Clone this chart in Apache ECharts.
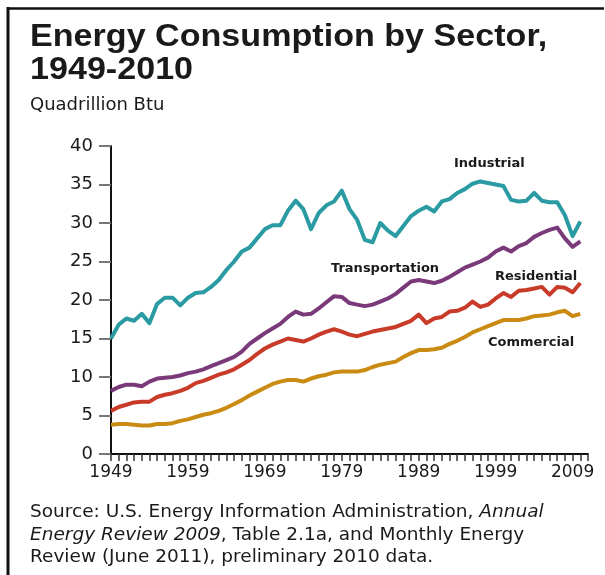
<!DOCTYPE html>
<html>
<head>
<meta charset="utf-8">
<script src="https://cdn.jsdelivr.net/npm/echarts@6/dist/echarts.min.js"></script>
<style>
  html, body { margin: 0; padding: 0; background: #fff; }
  #main { width: 605px; height: 575px; }
</style>
</head>
<body>
<div id="main"></div>
<script>
// years on the x axis (one extra slot after 2010, the axis runs a bit past the data)
const years = []
for (let y = 1949; y <= 2011; y++) years.push(String(y))
const yearLabels = ['1949', '1959', '1969', '1979', '1989', '1999', '2009']

// quadrillion Btu, 1949-2010
const industrial = [
  15.0, 16.8, 17.6, 17.3, 18.2, 17.0, 19.5, 20.3, 20.3, 19.3,
  20.3, 20.9, 21.0, 21.7, 22.6, 23.9, 25.0, 26.3, 26.8, 28.0,
  29.2, 29.7, 29.7, 31.6, 32.9, 31.8, 29.2, 31.3, 32.3, 32.8,
  34.2, 31.8, 30.4, 27.8, 27.5, 30.0, 29.0, 28.3, 29.6, 30.9,
  31.6, 32.1, 31.5, 32.8, 33.1, 33.9, 34.4, 35.1, 35.4, 35.2,
  35.0, 34.8, 33.0, 32.8, 32.9, 33.9, 32.9, 32.7, 32.7, 31.0,
  28.3, 30.2
]
const transportation = [
  8.2, 8.7, 9.0, 9.0, 8.8, 9.4, 9.8, 9.9, 10.0, 10.2,
  10.5, 10.7, 11.0, 11.4, 11.8, 12.2, 12.6, 13.3, 14.3, 15.0,
  15.7, 16.3, 16.9, 17.8, 18.5, 18.1, 18.2, 18.9, 19.7, 20.5,
  20.4, 19.6, 19.4, 19.2, 19.4, 19.8, 20.2, 20.8, 21.6, 22.4,
  22.6, 22.4, 22.2, 22.5, 23.0, 23.6, 24.2, 24.6, 25.0, 25.5,
  26.3, 26.8, 26.3, 27.0, 27.4, 28.2, 28.7, 29.1, 29.4, 28.0,
  26.9, 27.6
]
const residential = [
  5.6, 6.1, 6.4, 6.7, 6.8, 6.8, 7.4, 7.7, 7.9, 8.2,
  8.6, 9.2, 9.5, 9.9, 10.3, 10.6, 11.0, 11.6, 12.2, 13.0,
  13.7, 14.2, 14.6, 15.0, 14.8, 14.6, 15.0, 15.5, 15.9, 16.2,
  15.9, 15.5, 15.3, 15.6, 15.9, 16.1, 16.3, 16.5, 16.9, 17.3,
  18.1, 17.0, 17.6, 17.8, 18.5, 18.6, 19.0, 19.8, 19.1, 19.4,
  20.2, 20.9, 20.4, 21.2, 21.3, 21.5, 21.7, 20.7, 21.7, 21.6,
  21.0, 22.2
]
const commercial = [
  3.8, 3.9, 3.9, 3.8, 3.7, 3.7, 3.9, 3.9, 4.0, 4.3,
  4.5, 4.8, 5.1, 5.3, 5.6, 6.0, 6.5, 7.0, 7.6, 8.1,
  8.6, 9.1, 9.4, 9.6, 9.6, 9.4, 9.8, 10.1, 10.3, 10.6,
  10.7, 10.7, 10.7, 10.9, 11.3, 11.6, 11.8, 12.0, 12.6, 13.1,
  13.5, 13.5, 13.6, 13.8, 14.3, 14.7, 15.2, 15.8, 16.2, 16.6,
  17.0, 17.4, 17.4, 17.4, 17.6, 17.9, 18.0, 18.1, 18.4, 18.6,
  17.9, 18.2
]

const FONT = 'DejaVu Sans'
const TITLE_FONT = 'Liberation Sans'
const chart = echarts.init(document.getElementById('main'))

function line (name, data, color) {
  return {
    name,
    type: 'line',
    data,
    symbol: 'none',
    smooth: false,
    lineStyle: { width: 4, color, join: 'round' },
    itemStyle: { color }
  }
}

function txt (text, x, y, size, weight, family) {
  return {
    type: 'text',
    x,
    y,
    style: {
      text,
      fill: '#1a1a1a',
      fontFamily: family || FONT,
      fontSize: size,
      fontWeight: weight || 'normal',
      align: 'left',
      verticalAlign: 'middle'
    }
  }
}

// title lines: the original type is a little wide, so stretch it a bit
function title (text, y) {
  const t = txt(text, 30, y, 31, 'bold', TITLE_FONT)
  t.scaleX = 1.1
  return t
}

// source note, italic parts through rich text
function note (text, y) {
  const base = { fontFamily: FONT, fontSize: 18.5, fill: '#1a1a1a' }
  return {
    type: 'text',
    x: 30,
    y,
    style: Object.assign({
      text,
      align: 'left',
      verticalAlign: 'middle',
      rich: {
        i: { fontFamily: FONT, fontSize: 18.5, fontStyle: 'italic', color: '#1a1a1a' }
      }
    }, base)
  }
}

const option = {
  animation: false,
  backgroundColor: '#fff',
  grid: { left: 111, right: 17, top: 146, bottom: 121, containLabel: false },
  xAxis: {
    type: 'category',
    data: years,
    boundaryGap: false,
    axisLine: { lineStyle: { color: '#111', width: 2 } },
    axisTick: { interval: 0, length: 7, lineStyle: { color: '#333', width: 1.5 } },
    axisLabel: {
      interval: (i, v) => yearLabels.includes(v),
      fontFamily: FONT,
      fontSize: 17,
      color: '#1a1a1a',
      margin: 10
    },
    splitLine: { show: false }
  },
  yAxis: {
    type: 'value',
    min: 0,
    max: 40,
    interval: 5,
    axisLine: { show: true, lineStyle: { color: '#111', width: 2 } },
    axisTick: { show: true, length: 12, lineStyle: { color: '#777', width: 2 } },
    axisLabel: { fontFamily: FONT, fontSize: 18, color: '#1a1a1a', margin: 18 },
    splitLine: { show: false }
  },
  series: [
    line('Commercial', commercial, '#c98b12'),
    line('Residential', residential, '#c83b28'),
    line('Transportation', transportation, '#7a3a7a'),
    line('Industrial', industrial, '#2a9ba2')
  ],
  graphic: [
    // frame: top and left rules
    { type: 'line', shape: { x1: 7, y1: 8.5, x2: 604, y2: 8.5 }, style: { stroke: '#111', lineWidth: 2.5 } },
    { type: 'line', shape: { x1: 8, y1: 7, x2: 8, y2: 575 }, style: { stroke: '#111', lineWidth: 3 } },
    title('Energy Consumption by Sector,', 37),
    title('1949-2010', 70),
    txt('Quadrillion Btu', 30, 105, 18),
    txt('Industrial', 454, 164, 13, 'bold'),
    txt('Transportation', 331, 269, 13, 'bold'),
    txt('Residential', 495, 277, 13, 'bold'),
    txt('Commercial', 488, 343, 13, 'bold'),
    note('Source: U.S. Energy Information Administration, {i|Annual}', 512),
    note('{i|Energy Review 2009}, Table 2.1a, and Monthly Energy', 535),
    note('Review (June 2011), preliminary 2010 data.', 557)
  ]
}

chart.setOption(option)
</script>
</body>
</html>
